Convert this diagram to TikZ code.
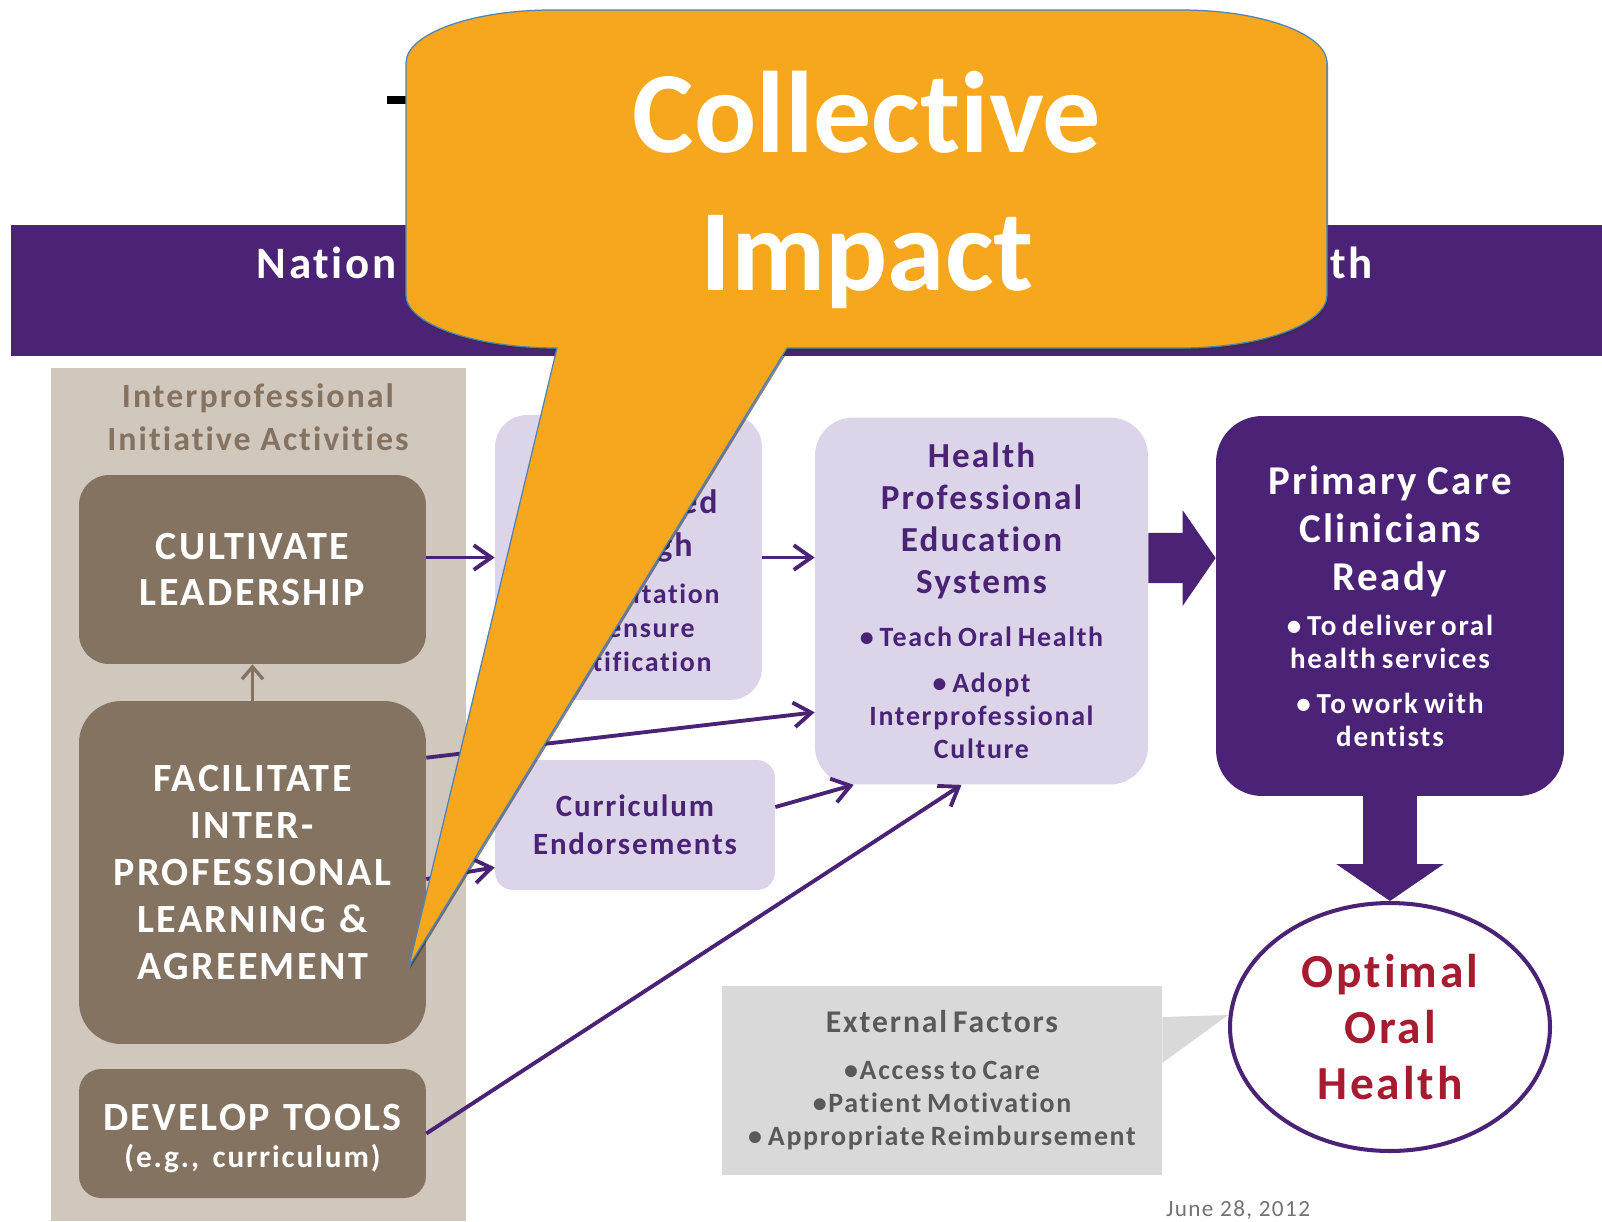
\documentclass[tikz,border=0pt]{standalone}
\usepackage{fontspec}
\setmainfont{Carlito}[Ligatures=NoCommon]
\newfontfamily\spcd{Carlito}[LetterSpace=6, Ligatures=NoCommon]
\usetikzlibrary{arrows.meta,shapes.geometric,backgrounds,shadows}
\definecolor{purp}{HTML}{4B2376}
\definecolor{lilac}{HTML}{DCD5EA}
\definecolor{mud}{HTML}{857362}
\definecolor{sand}{HTML}{D0C7BD}
\definecolor{gold}{HTML}{F7A71E}
\definecolor{rim}{HTML}{4F81BD}
\definecolor{wine}{HTML}{A51C30}
\definecolor{ash}{HTML}{D9D9D9}
\definecolor{slate}{HTML}{595959}
\tikzset{
  act/.style={fill=mud, text=white, align=center, text width=6.6cm, minimum width=6.94cm,
    font=\spcd\bfseries\fontsize{22.8}{26.7}\selectfont},
  goal/.style={fill=lilac, text=purp, align=center},
  frag/.style={text=purp, inner sep=0pt, anchor=base east},
  link/.style={purp, line width=2.2pt, -{Straight Barb[length=10pt,width=14pt]}}
}
\begin{document}
\begin{tikzpicture}[x=0.02cm, y=-0.02cm]
\begin{scope}[on background layer]
\fill[white] (0,0) rectangle (1602,1221);
\end{scope}
\useasboundingbox (0,0) rectangle (1602,1221);
\fill (387,96) rectangle (406,104);
\fill[purp] (11,225) rectangle (1602,356);
\node[anchor=base east, text=white, inner sep=0pt, font=\spcd\bfseries\fontsize{25.6}{30}\selectfont] (nat) at (397,278) {Nation};
\node[anchor=base west, text=white, inner sep=0pt, font=\spcd\bfseries\fontsize{25.6}{30}\selectfont] (nat2) at (1330,278) {th};

\fill[sand] (51,368) rectangle (466,1221);
\node[text=mud, align=center, font=\spcd\bfseries\fontsize{19.3}{24.5}\selectfont] (acts) at (258,417) {Interprofessional\\Initiative Activities};
\node[act, rounded corners=0.6cm, minimum height=3.78cm] (cult) at (252.5,569.5) {CULTIVATE\\LEADERSHIP\par};
\node[act, rounded corners=0.84cm, minimum height=6.86cm] (facil) at (252.5,872.5) {FACILITATE\\INTER-\\PROFESSIONAL\\LEARNING \&\\AGREEMENT\par};
\node[act, rounded corners=0.44cm, minimum height=2.58cm] (tools) at (252.5,1133.5) {\rule{0pt}{20.4pt}DEVELOP TOOLS\\[-5.5pt]{\fontsize{17.8}{23}\selectfont (e.g., curriculum)}\par};
\draw[mud, line width=1.9pt, -{Straight Barb[length=7pt,width=12pt]}] (facil) -- (cult);

\node[goal, rounded corners=0.64cm, minimum width=5.34cm, minimum height=5.7cm] (acc) at (628.5,557.5) {};
\node[frag, font=\spcd\bfseries\fontsize{19.3}{23}\selectfont] (acc1) at (718,513) {ed};
\node[frag, font=\spcd\bfseries\fontsize{19.3}{23}\selectfont] (acc2) at (693,556) {gh};
\node[frag, font=\spcd\bfseries\fontsize{15.9}{19}\selectfont] (acc3) at (720,603) {itation};
\node[frag, font=\spcd\bfseries\fontsize{15.9}{19}\selectfont] (acc4) at (695,637) {ensure};
\node[frag, font=\spcd\bfseries\fontsize{15.9}{19}\selectfont] (acc5) at (712,671) {tification};
\node[goal, rounded corners=0.36cm, minimum width=5.6cm, minimum height=2.6cm, font=\spcd\bfseries\fontsize{17.6}{21.6}\selectfont] (curr) at (635,825) {Curriculum\\Endorsements};

\node[goal, rounded corners=0.76cm, minimum width=6.66cm, minimum height=7.34cm, text width=6.3cm, font=\spcd\bfseries] (hpe) at (981.5,601) {\fontsize{20}{23.9}\selectfont Health\\Professional\\Education\\Systems\par\vspace{11.4pt}\fontsize{15.9}{18.8}\selectfont\textbullet\ Teach Oral Health\par\vspace{7.4pt}\textbullet\ Adopt\\Interprofessional\\Culture\par};

\node[fill=purp, text=white, align=center, rounded corners=0.92cm, minimum width=6.96cm, minimum height=7.6cm, text width=6.5cm, font=\spcd\bfseries] (pcc) at (1390,606) {\fontsize{23.3}{27.3}\selectfont Primary\hspace{0.12em} Care\\Clinicians\\Ready\par\vspace{6.8pt}\fontsize{16.5}{18.8}\selectfont\textbullet\ To deliver oral\\health services\par\vspace{6.8pt}\textbullet\ To work with\\dentists\par};

\node[ellipse, draw=purp, line width=2.3pt, fill=white, minimum width=6.4cm, minimum height=4.96cm, text=wine, align=center, font=\spcd\bfseries\fontsize{27}{32.1}\selectfont] (oral) at (1390,1027) {Optimal\\Oral\\Health};

\node[fill=ash, text=slate, align=center, minimum width=8.8cm, minimum height=3.78cm, text width=8.4cm, font=\spcd\bfseries] (ext) at (942,1080.5) {\fontsize{18}{20}\selectfont External Factors\par\vspace{7.9pt}\fontsize{15.9}{18.8}\selectfont\textbullet Access to Care\\\textbullet Patient Motivation\\\textbullet\ Appropriate Reimbursement\par};
\begin{scope}[on background layer]
\fill[ash] ([yshift=1.27cm]ext.east) -- ([yshift=0.24cm]oral.west) -- ([yshift=0.35cm]ext.east) -- cycle;
\end{scope}

\node[anchor=base, text=black!55, font=\spcd\fontsize{13.2}{15}\selectfont] (date) at (1238,1216) {June 28, 2012};

\draw[link] (cult.east |- acc.west) -- (acc.west);
\draw[link] (acc.east) -- (acc.east -| hpe.west);
\draw[link] ([yshift=-1.14cm]facil.north east) -- ([yshift=1.45cm]hpe.south west);
\draw[link] ([yshift=-0.13cm]facil.east) -- ([yshift=0.46cm]curr.south west);
\draw[link] ([yshift=0.36cm]curr.east) -- ([xshift=0.78cm]hpe.south west);
\draw[link] (tools.east) -- ([xshift=-0.4cm]hpe.south);
\draw[purp, line width=28.5pt, -{Triangle[length=18.8pt,width=53.5pt]}] ([yshift=0.86cm]hpe.east) -- ([yshift=0.96cm]pcc.west);
\draw[purp, line width=30.7pt, -{Triangle[length=21pt,width=60pt]}] (pcc) -- (oral);

\filldraw[fill=gold, draw=rim, line width=0.7pt, drop shadow={shadow xshift=0.6pt, shadow yshift=-1.6pt, fill=black!80, opacity=0.6}]
  (552,10) -- (1181,10) .. controls (1262,10) and (1327,34) .. (1327,63) -- (1327,295)
  .. controls (1327,324) and (1262,348) .. (1181,348) -- (787,348) -- (409,966) -- (557,348)
  .. controls (474,348) and (406,324) .. (406,295) -- (406,63)
  .. controls (406,34) and (471,10) .. (552,10) -- cycle;
\node[text=white, align=center, font=\bfseries\fontsize{66}{79}\selectfont] (ci) at (867,190) {Collective\\Impact};
\end{tikzpicture}
\end{document}
